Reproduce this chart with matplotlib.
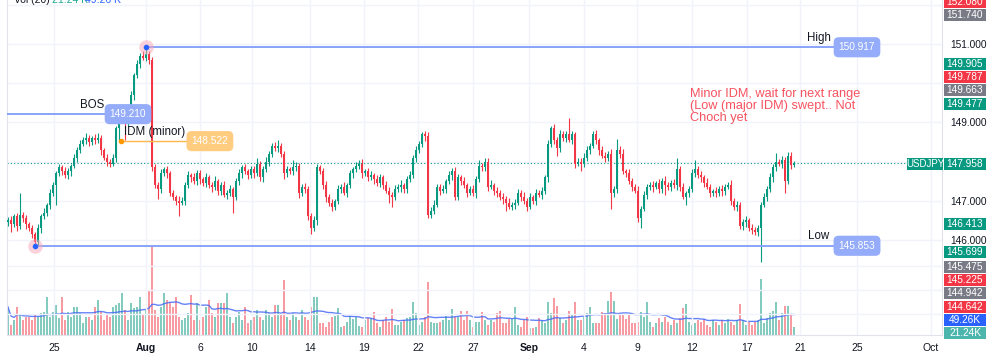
import numpy as np
import pandas as pd
import matplotlib
matplotlib.use("Agg")
import matplotlib.pyplot as plt
from matplotlib.patches import Rectangle

plt.rcParams['font.family'] = ['Liberation Sans', 'DejaVu Sans']

# USDJPY 4H candles (open = previous close)
first_open = 146.45
closes = [
    146.50, 146.40, 146.60, 146.35, 146.65, 146.55, 146.40, 146.30, 146.15, 145.95,
    146.30, 146.60, 146.70, 146.90, 147.20, 147.40, 147.70, 147.85, 147.75, 147.65,
    147.75, 147.90, 148.10, 148.30, 148.45, 148.55, 148.60, 148.50, 148.60, 148.55,
    148.60, 148.30, 148.10, 148.00, 147.95, 148.10, 148.85, 149.10, 149.20, 149.00,
    149.30, 149.70, 150.20, 150.50, 150.70, 150.65, 150.75, 150.60, 147.85, 147.40,
    147.30, 147.70, 147.80, 147.70, 147.20, 147.10, 147.00, 146.95, 147.00, 147.40,
    147.65, 147.60, 147.50, 147.70, 147.55, 147.45, 147.60, 147.40, 147.35, 147.50,
    147.25, 147.40, 147.15, 147.20, 147.30, 147.10, 147.50, 147.70, 147.85, 147.75,
    147.65, 147.80, 147.70, 147.95, 147.60, 147.80, 148.00, 148.20, 148.40, 148.35,
    148.40, 148.20, 147.70, 147.80, 147.75, 147.85, 147.90, 147.20, 147.35, 147.30,
    146.60, 146.30, 146.50, 147.85, 147.75, 147.40, 147.10, 146.95, 146.85, 147.00,
    147.30, 147.35, 147.20, 147.40, 147.70, 147.80, 147.90, 147.95, 147.70, 147.75,
    147.60, 147.65, 147.55, 147.45, 147.60, 147.40, 147.25, 147.15, 147.10, 147.30,
    147.35, 147.40, 147.30, 147.55, 147.65, 148.10, 148.30, 148.45, 148.70, 148.65,
    146.65, 146.75, 146.90, 147.35, 147.25, 147.30, 147.50, 147.65, 147.75, 147.10,
    147.60, 147.50, 147.40, 147.20, 147.30, 147.20, 147.55, 147.90, 147.85, 148.00,
    147.35, 147.40, 147.25, 147.20, 147.10, 147.05, 146.95, 146.85, 146.90, 146.95,
    147.20, 147.10, 147.00, 146.85, 147.10, 147.00, 147.20, 147.15, 147.25, 147.60,
    148.45, 148.85, 148.55, 148.35, 148.70, 148.60, 148.70, 148.55, 148.70, 147.95,
    148.00, 147.95, 148.10, 148.30, 148.40, 148.70, 148.55, 148.30, 148.15, 148.10,
    148.20, 147.20, 147.30, 148.30, 148.20, 147.75, 147.70, 147.50, 147.35, 147.25,
    146.55, 146.80, 147.15, 147.35, 147.40, 147.35, 147.45, 147.30, 147.50, 147.40,
    147.35, 147.45, 147.40, 147.80, 147.35, 147.10, 147.20, 147.30, 147.70, 147.80,
    147.65, 147.60, 147.45, 147.35, 147.20, 147.25, 147.20, 147.30, 147.25, 147.35,
    147.40, 147.00, 146.85, 146.90, 146.35, 146.45, 146.50, 146.30, 146.25, 146.20,
    146.30, 146.90, 147.10, 147.30, 147.60, 147.85, 148.00, 147.95, 148.05, 147.50,
    148.15, 147.92, 147.958,
]
# wick length above / below the body, in pips
wick_hi = [
    8, 12, 6, 10, 55, 7, 9, 5, 8, 6,
    10, 7, 12, 5, 9, 8, 6, 10, 7, 12,
    8, 5, 9, 6, 11, 7, 14, 9, 6, 10,
    12, 8, 5, 9, 7, 10, 6, 8, 12, 9,
    7, 10, 6, 9, 8, 11, 17, 6, 8, 10,
    9, 12, 7, 10, 6, 8, 5, 11, 9, 7,
    10, 6, 12, 8, 9, 5, 10, 7, 8, 12,
    6, 9, 11, 7, 10, 5, 8, 12, 6, 9,
    7, 10, 8, 14, 6, 9, 11, 7, 8, 10,
    15, 8, 6, 10, 7, 20, 9, 6, 8, 11,
    7, 9, 12, 10, 6, 8, 11, 7, 9, 5,
    10, 8, 12, 6, 9, 7, 10, 8, 11, 6,
    9, 12, 7, 10, 8, 6, 11, 9, 7, 10,
    8, 12, 6, 9, 11, 7, 10, 8, 6, 9,
    10, 8, 12, 7, 9, 11, 6, 10, 8, 12,
    9, 7, 10, 6, 8, 11, 9, 15, 7, 10,
    8, 12, 6, 9, 7, 10, 8, 11, 6, 9,
    10, 7, 12, 8, 9, 6, 10, 8, 11, 7,
    9, 5, 12, 8, 10, 7, 9, 42, 8, 6,
    10, 8, 12, 9, 7, 8, 11, 6, 9, 10,
    8, 12, 7, 28, 9, 11, 6, 10, 8, 9,
    12, 7, 10, 8, 9, 11, 6, 10, 8, 12,
    9, 7, 10, 30, 8, 11, 6, 9, 10, 25,
    8, 10, 7, 12, 9, 6, 11, 8, 10, 9,
    7, 12, 8, 10, 6, 9, 11, 7, 10, 8,
    9, 6, 10, 8, 12, 9, 22, 7, 10, 8,
    10, 9, 6,
]
wick_lo = [
    10, 20, 8, 12, 7, 9, 11, 6, 10, 10,
    8, 12, 6, 9, 11, 7, 50, 8, 10, 6,
    9, 12, 7, 10, 8, 6, 11, 9, 7, 10,
    8, 12, 6, 10, 9, 7, 11, 33, 10, 45,
    9, 7, 12, 8, 10, 6, 9, 11, 10, 8,
    25, 10, 7, 12, 9, 8, 11, 35, 6, 10,
    8, 12, 7, 9, 11, 6, 10, 8, 12, 7,
    9, 11, 6, 10, 8, 40, 7, 9, 12, 6,
    10, 8, 11, 7, 9, 12, 6, 10, 8, 9,
    11, 7, 15, 9, 6, 10, 8, 12, 7, 9,
    10, 15, 8, 11, 6, 9, 12, 7, 10, 8,
    9, 11, 6, 10, 8, 12, 7, 9, 11, 6,
    10, 8, 12, 7, 9, 11, 6, 20, 27, 8,
    7, 12, 9, 10, 6, 8, 11, 7, 9, 12,
    8, 10, 9, 7, 11, 6, 10, 8, 12, 9,
    7, 10, 8, 11, 6, 9, 12, 7, 10, 8,
    11, 6, 9, 10, 8, 12, 20, 7, 9, 11,
    6, 10, 8, 12, 7, 9, 11, 6, 10, 8,
    12, 7, 9, 20, 10, 8, 11, 6, 9, 12,
    7, 20, 10, 8, 11, 6, 9, 12, 7, 10,
    8, 40, 11, 9, 12, 7, 10, 8, 11, 6,
    9, 25, 7, 10, 8, 12, 6, 9, 11, 25,
    7, 10, 8, 12, 9, 6, 20, 11, 7, 10,
    8, 12, 9, 6, 11, 7, 10, 8, 12, 9,
    6, 10, 8, 11, 7, 9, 12, 6, 10, 8,
    11, 85, 7, 10, 8, 12, 9, 6, 11, 30,
    8, 10, 7,
]
# volume in thousands
volume_k = [
    76, 27, 41, 76, 54, 41, 49, 49, 41, 54, 49, 60, 63, 103, 49,
    63, 82, 46, 103, 41, 63, 49, 76, 76, 60, 33, 49, 49, 41, 76,
    95, 63, 41, 54, 49, 76, 82, 87, 114, 68, 41, 87, 73, 76, 103,
    54, 68, 120, 245, 68, 49, 76, 114, 95, 87, 76, 103, 49, 41, 45,
    60, 109, 41, 87, 41, 49, 76, 95, 60, 49, 87, 87, 87, 114, 49,
    33, 49, 63, 41, 76, 33, 41, 49, 68, 49, 41, 68, 60, 49, 82,
    82, 54, 150, 49, 41, 60, 49, 41, 68, 49, 41, 76, 103, 103, 33,
    33, 22, 35, 49, 52, 73, 22, 24, 35, 52, 44, 49, 24, 22, 41,
    46, 46, 63, 33, 22, 41, 49, 35, 71, 27, 27, 35, 41, 46, 49,
    90, 60, 27, 35, 49, 144, 35, 33, 33, 35, 41, 52, 41, 71, 49,
    49, 65, 41, 65, 41, 22, 35, 35, 63, 41, 27, 41, 35, 60, 65,
    33, 33, 44, 44, 76, 27, 22, 41, 49, 19, 19, 22, 46, 41, 33,
    90, 60, 101, 79, 46, 33, 41, 65, 57, 90, 41, 41, 49, 60, 76,
    33, 33, 33, 63, 60, 92, 117, 92, 44, 60, 54, 44, 54, 33, 33,
    35, 63, 49, 90, 35, 22, 33, 46, 35, 49, 35, 27, 41, 33, 46,
    73, 84, 35, 27, 33, 41, 35, 44, 27, 22, 41, 35, 27, 41, 33,
    44, 35, 27, 41, 84, 41, 27, 35, 27, 35, 41, 152, 33, 46, 60,
    65, 90, 41, 60, 79, 79, 55, 21.24,
]

tick_pos = [15.3, 46, 64, 81.3, 100.7, 118.7, 136.7, 155, 173.7, 192, 209.7, 228, 246.3, 264, 283, 307.7]
tick_lbl = ["25", "Aug", "6", "10", "14", "19", "22", "27", "Sep", "4", "9", "12", "17", "21", "25", "Oct"]

high_lvl, high_idx = 150.917, 46
low_lvl, low_idx = 145.853, 9
bos_lvl = 149.210
idm_lvl, idm_idx = 148.522, 37.6
last_price = 147.958
level_end = 283

note = "Minor IDM, wait for next range\n(Low (major IDM) swept.. Not\nChoch yet"

GREEN, RED, GRAY, BLUE = "#089981", "#f23645", "#787b86", "#2962ff"
# price-scale labels: text, colour, y position in pixels
scale_boxes = [
    ("152.080", RED, 2), ("151.740", GRAY, 15),
    ("149.905", GREEN, 64), ("149.787", RED, 77), ("149.663", GRAY, 90), ("149.477", GREEN, 104),
    ("147.958", GREEN, 164), ("146.413", GREEN, 224),
    ("145.699", GREEN, 252), ("145.475", GRAY, 267), ("145.225", RED, 280),
    ("144.942", GRAY, 293), ("144.642", RED, 307),
    ("49.26K", BLUE, 320), ("21.24K", "#4db6ac", 333),
]

assert len(closes) == len(wick_hi) == len(wick_lo) == len(volume_k)

W, H = 996, 359
def fx(px):
    return px / W
def fy(py):
    return 1 - py / H

fig = plt.figure(figsize=(W / 100, H / 100), dpi=100)
ax = fig.add_axes([fx(7), fy(335), (942 - 7) / W, 335 / H])
ax2 = ax.twinx()
ax.set_zorder(ax2.get_zorder() + 1)
ax.patch.set_visible(False)
ax2.patch.set_facecolor("white")

c = np.array(closes)
o = np.r_[first_open, c[:-1]]
x = np.arange(len(c))
up = c >= o
cols = np.where(up, GREEN, RED)
top = np.maximum(o, c)
bot = np.minimum(o, c)
hi = top + np.array(wick_hi) / 100
lo = bot - np.array(wick_lo) / 100

# grid
for t in tick_pos:
    ax.axvline(t, color="#f0f3fa", lw=1, zorder=0)
for p in [152, 151, 150, 149, 148, 147, 146, 145.34, 144.73, 144.12]:
    ax.axhline(p, color="#f0f3fa", lw=1, zorder=0)

# volume + MA
ax2.bar(x, volume_k, width=0.55, color=cols, alpha=0.5, lw=0)
vol_ma = pd.Series(volume_k).rolling(20, min_periods=1).mean()
ax2.plot(x, vol_ma, color="#4a6cf7", lw=1.0, alpha=0.85)
ax2.set_ylim(0, 912)
ax2.axis("off")

# candles
ax.vlines(x, lo, hi, colors=cols, lw=0.8, zorder=3)
ax.bar(x, np.maximum(top - bot, 0.015), bottom=bot, width=0.66, color=cols, lw=0, zorder=3)

ax.axhline(last_price, color=GREEN, lw=0.8, ls=(0, (1, 2)), zorder=2)

# structure levels
LB = "#88a3f8"
BOXB = "#94acf9"
ax.plot([-1, 40], [bos_lvl, bos_lvl], color=LB, lw=1.4, zorder=4)
ax.plot([high_idx, level_end], [high_lvl, high_lvl], color=LB, lw=1.4, zorder=4)
ax.plot([low_idx, level_end], [low_lvl, low_lvl], color=LB, lw=1.4, zorder=4)
ax.plot([idm_idx, 67], [idm_lvl, idm_lvl], color="#ffb74d", lw=1.0, zorder=4)
ax.scatter([idm_idx], [idm_lvl], s=9, color="#ff9800", zorder=6)

for xi, yv in [(high_idx, high_lvl), (low_idx, low_lvl)]:
    ax.scatter([xi], [yv], s=110, color="#f8a5b8", alpha=0.5, lw=0, zorder=5)
    ax.scatter([xi], [yv], s=9, color=BLUE, zorder=6)

box_kw = dict(ha="center", va="center", color="white", fontsize=7.3, zorder=7)
box_style = "round,pad=0.5,rounding_size=0.5"
ax.text(40, bos_lvl, f"{bos_lvl:.3f}", bbox=dict(boxstyle=box_style, fc=BOXB, ec="none"), **box_kw)
ax.text(level_end, high_lvl, f"{high_lvl:.3f}", bbox=dict(boxstyle=box_style, fc=BOXB, ec="none"), **box_kw)
ax.text(level_end, low_lvl, f"{low_lvl:.3f}", bbox=dict(boxstyle=box_style, fc=BOXB, ec="none"), **box_kw)
ax.text(67.3, idm_lvl, f"{idm_lvl:.3f}", bbox=dict(boxstyle=box_style, fc="#ffcc80", ec="none"), **box_kw)

lab_kw = dict(ha="center", va="bottom", color="#131722", fontsize=8.3, textcoords="offset points", xytext=(0, 2.5), zorder=7)
ax.annotate("BOS", (28, bos_lvl), **lab_kw)
ax.annotate("IDM (minor)", (48.7, idm_lvl), **lab_kw)
ax.annotate("High", (270.3, high_lvl), **lab_kw)
ax.annotate("Low", (270.3, low_lvl), **lab_kw)

ax.text(227.3, 149.88, note, ha="left", va="top", color="#f7525f", fontsize=9.2, linespacing=1.0, zorder=7)

# axes
ax.set_xlim(-1 / 3, (942 - 8) / 3)
ax.set_ylim(151 - (335 - 44) / 39.2, 151 + 44 / 39.2)
ax.set_xticks(tick_pos)
ax.set_xticklabels(tick_lbl)
for t in ax.get_xticklabels():
    t.set_fontsize(7.5)
    t.set_color("#131722")
    if t.get_text() in ("Aug", "Sep"):
        t.set_fontweight("bold")
ax.tick_params(axis="x", length=0, pad=6)
ax.yaxis.tick_right()
ax.set_yticks([151, 149, 147, 146])
ax.set_yticklabels([f"{v:.3f}" for v in [151, 149, 147, 146]])
ax.tick_params(axis="y", length=0, pad=6, labelsize=7.3, labelcolor="#131722")
ax.spines["top"].set_visible(False)
for s in ["left", "bottom", "right"]:
    ax.spines[s].set_color("#e0e3eb")
for s in ax2.spines.values():
    s.set_visible(False)

# price scale labels
for txt, col, ypx in scale_boxes:
    fig.patches.append(Rectangle((fx(944), fy(ypx + 6)), 42 / W, 12 / H, transform=fig.transFigure,
                                 fc=col, ec="none", zorder=5))
    fig.text(fx(965), fy(ypx), txt, ha="center", va="center", color="white", fontsize=7.3, zorder=6)
fig.patches.append(Rectangle((fx(907), fy(164 + 6)), 36 / W, 12 / H, transform=fig.transFigure,
                             fc=GREEN, ec="none", zorder=5))
fig.text(fx(925), fy(164), "USDJPY", ha="center", va="center", color="white", fontsize=7, zorder=6)

# legend line, cut by the top edge as in the screenshot
fig.text(fx(14), fy(3), "Vol (20)", color="#131722", fontsize=7.5, va="baseline")
fig.text(fx(52), fy(3), "21.24 K", color="#22ab94", fontsize=7.5, va="baseline")
fig.text(fx(85), fy(3), "49.26 K", color=BLUE, fontsize=7.5, va="baseline")

fig.savefig("out.png", dpi=100)
